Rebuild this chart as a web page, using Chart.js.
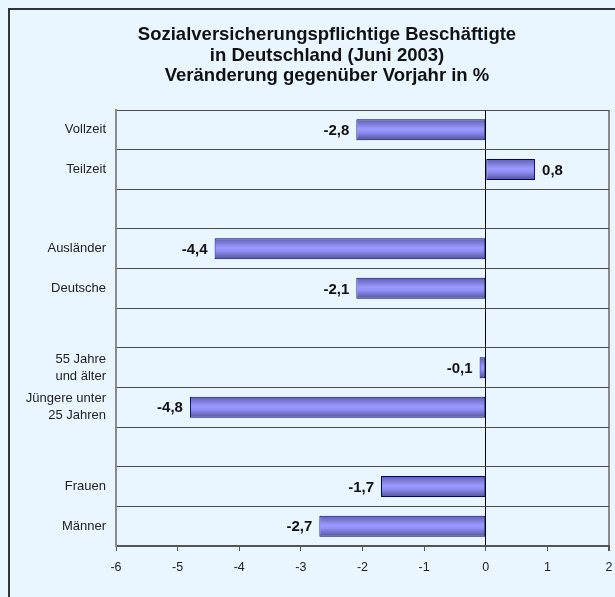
<!DOCTYPE html>
<html>
<head>
<meta charset="utf-8">
<script src="https://cdn.jsdelivr.net/npm/chart.js@4/dist/chart.umd.min.js"></script>
<style>
  body { margin: 0; background: #eaf6ff; }
  #wrap { width: 615px; height: 597px; }
</style>
</head>
<body>
<div id="wrap"><canvas id="myChart" width="615" height="597"></canvas></div>
<script>
var categories = [
    'Vollzeit', 'Teilzeit', '',
    'Ausländer', 'Deutsche', '',
    ['55 Jahre', 'und älter'], ['Jüngere unter', '25 Jahren'], '',
    'Frauen', 'Männer'
];
// bar lengths as drawn in the picture
var barValues = [-2.1, 0.8, null, -4.4, -2.1, null, -0.1, -4.8, null, -1.7, -2.7];
// value labels as printed next to the bars
var valueLabels = ['-2,8', '0,8', '', '-4,4', '-2,1', '', '-0,1', '-4,8', '', '-1,7', '-2,7'];
var titleLines = [
    'Sozialversicherungspflichtige Beschäftigte',
    'in Deutschland (Juni 2003)',
    'Veränderung gegenüber Vorjahr in %'
];

var BAR_PCT = 0.53;
var FONT = '"Liberation Sans", Arial, sans-serif';

var backgroundPlugin = {
    id: 'bgFrame',
    beforeDraw: function(chart) {
        var c = chart.ctx;
        c.save();
        c.fillStyle = '#eaf6ff';
        c.fillRect(0, 0, chart.width, chart.height);
        c.strokeStyle = '#333333';
        c.lineWidth = 2;
        c.strokeRect(9, 9, chart.width + 20, chart.height + 20);
        c.restore();
    }
};

var titlePlugin = {
    id: 'titleText',
    afterDraw: function(chart) {
        var c = chart.ctx;
        c.save();
        c.font = 'bold 18.5px ' + FONT;
        c.fillStyle = '#111';
        c.textAlign = 'center';
        c.textBaseline = 'middle';
        titleLines.forEach(function(line, i) {
            c.fillText(line, 327, 35 + i * 20.5);
        });
        c.restore();
    }
};

var valueLabelPlugin = {
    id: 'valueLabels',
    afterDatasetsDraw: function(chart) {
        var c = chart.ctx;
        var meta = chart.getDatasetMeta(0);
        c.save();
        c.font = 'bold 15px ' + FONT;
        c.fillStyle = '#111';
        c.textBaseline = 'middle';
        meta.data.forEach(function(bar, i) {
            var v = barValues[i];
            if (v === null || !valueLabels[i]) return;
            if (v < 0) {
                c.textAlign = 'right';
                c.fillText(valueLabels[i], bar.x - 7, bar.y + 1);
            } else {
                c.textAlign = 'left';
                c.fillText(valueLabels[i], bar.x + 7, bar.y + 1);
            }
        });
        c.restore();
    }
};

function barGradient(context) {
    var chart = context.chart;
    var y = chart.scales.y;
    if (!y || !chart.chartArea) return '#8c8cff';
    var cy = y.getPixelForValue(context.dataIndex);
    var h = (y.height / categories.length) * BAR_PCT / 2;
    var g = chart.ctx.createLinearGradient(0, cy - h, 0, cy + h);
    g.addColorStop(0, '#5e5eae');
    g.addColorStop(0.45, '#9a9aff');
    g.addColorStop(0.6, '#9090fa');
    g.addColorStop(1, '#525292');
    return g;
}

var ctx = document.getElementById('myChart').getContext('2d');
var myChart = new Chart(ctx, {
    type: 'bar',
    data: {
        labels: categories,
        datasets: [{
            data: barValues,
            backgroundColor: barGradient,
            borderColor: '#000080',
            borderWidth: 1,
            borderSkipped: false,
            barPercentage: BAR_PCT,
            categoryPercentage: 1.0
        }]
    },
    options: {
        indexAxis: 'y',
        responsive: false,
        animation: false,
        layout: {
            padding: { left: 20, right: 6, top: 110, bottom: 13 }
        },
        scales: {
            x: {
                min: -6,
                max: 2,
                ticks: {
                    stepSize: 1,
                    color: '#222',
                    padding: 9,
                    font: { family: FONT, size: 12.5 }
                },
                grid: {
                    color: function(c) {
                        if (c.tick && c.tick.value === 0) return '#000000';
                        if (c.tick && c.tick.value === 2) return '#8a8a8a';
                        return 'rgba(0,0,0,0)';
                    },
                    lineWidth: function(c) {
                        return (c.tick && c.tick.value === 2) ? 2 : 1;
                    },
                    tickColor: '#555',
                    tickLength: 5
                },
                border: { color: '#555', width: 2 },
                afterFit: function(scale) {
                    scale.paddingRight = 0;
                }
            },
            y: {
                ticks: {
                    color: '#222',
                    padding: 10,
                    font: { family: FONT, size: 13, lineHeight: 1.3 }
                },
                grid: {
                    offset: true,
                    color: '#4a4a4a',
                    drawTicks: false
                },
                border: { color: '#8a8a8a', width: 2 },
                afterFit: function(scale) {
                    scale.width = 96;
                }
            }
        },
        plugins: {
            legend: { display: false },
            tooltip: { enabled: false },
            title: { display: false }
        }
    },
    plugins: [backgroundPlugin, titlePlugin, valueLabelPlugin]
});
</script>
</body>
</html>
